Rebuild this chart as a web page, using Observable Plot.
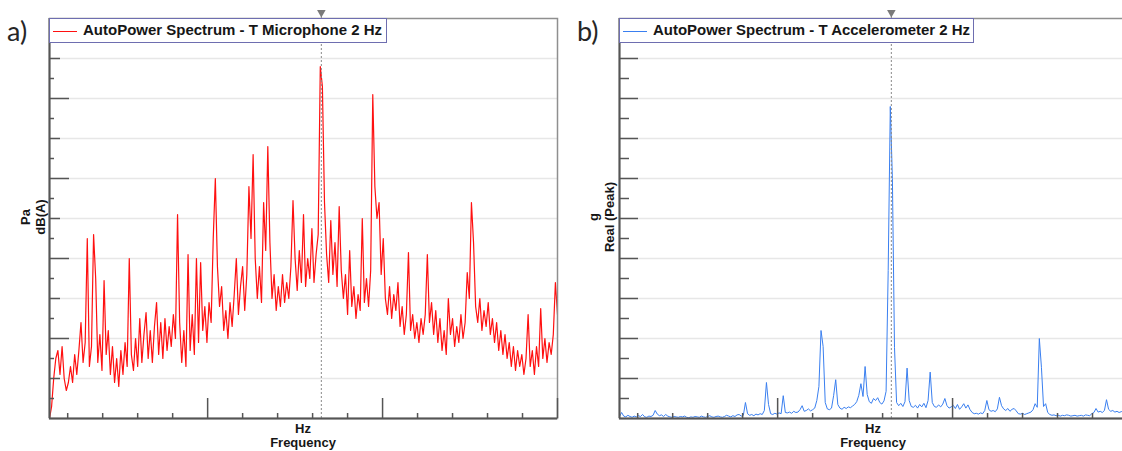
<!DOCTYPE html>
<html>
<head>
<meta charset="utf-8">
<script src="https://cdn.jsdelivr.net/npm/d3@7"></script>
<script src="https://cdn.jsdelivr.net/npm/@observablehq/plot@0.6"></script>
<style>
  html, body { margin: 0; padding: 0; background: #fff; overflow: hidden; width: 1122px; height: 451px; }
  #root { position: relative; width: 1122px; height: 451px; overflow: hidden; font-family: "Liberation Sans", Arial, sans-serif; }
  .panel { position: absolute; top: 0; width: 560px; height: 451px; }
  .panel svg { max-width: none !important; }
  .tag { position: absolute; font-family: Lato, "Open Sans", sans-serif; font-size: 27px; line-height: 27px; color: #262626; }
  .legend { position: absolute; top: 18px; height: 25px; box-sizing: border-box; border: 1px solid #6e6eb0; background: #fff; }
  .legend .sw { position: absolute; left: 3px; top: 11.5px; width: 24px; height: 1.5px; }
  .legend .lt { position: absolute; left: 33px; top: 4px; font-weight: bold; font-size: 14.5px; line-height: 15px; color: #161616; white-space: nowrap; transform-origin: 0 0; }
  .ylab { position: absolute; font-weight: bold; font-size: 13px; line-height: 13px; color: #161616; white-space: nowrap; transform: translate(-50%, -50%) rotate(-90deg); }
  .xlab { position: absolute; font-weight: bold; font-size: 13px; line-height: 13px; color: #161616; white-space: nowrap; transform: translateX(-50%); }
</style>
</head>
<body>
<div id="root"></div>
<script>
// ---- data (levels, one value per 6 Hz bin starting at 48 Hz) ----
const freqStartHz = 48;
const binHz = 6;
const xDomainHz = [48, 1500];
const yDomain = [0, 100];
const cursorHz = 825;

const titleA = "AutoPower Spectrum - T Microphone 2 Hz";
const titleB = "AutoPower Spectrum - T Accelerometer 2 Hz";
const tagA = "a)";
const tagB = "b)";
const yLabelA = ["Pa", "dB(A)"];
const yLabelB = ["g", "Real (Peak)"];
const xLabelLines = ["Hz", "Frequency"];

const gridLevels = [10, 20, 30, 40, 50, 60, 70, 80, 90];
const halfLevels = [5, 15, 25, 35, 45, 55, 65, 75, 85, 95];
const longLevelsA = [20, 40, 60, 80];
const midLevelsA = [10, 30, 50, 70, 90];
const xMinorHz = [100, 200, 300, 400, 600, 700, 800, 900, 1100, 1200, 1300, 1400];
const xMajorHz = [500, 1000, 1500];

const levelA = [
  0, 3, 10, 15, 17, 11, 18, 10, 7, 9,
  13, 9, 16, 11, 17, 24, 14, 19, 45, 13,
  18, 46, 35, 14, 21, 12, 34.5, 16, 22, 11,
  18, 9, 15, 8, 17, 11, 19, 13, 40, 16,
  12, 20, 13, 25, 14, 21, 26.5, 15, 22, 14,
  23, 29, 16, 24, 15, 25, 17, 23, 18, 26,
  20, 51, 24, 14, 22, 13, 41, 17, 26, 16,
  40, 19, 39, 22, 28, 19, 29, 24, 45, 60,
  38, 28, 33, 22, 27, 20, 29, 23, 31, 40,
  26, 33, 38, 27, 36, 58, 45, 66, 40, 30,
  38, 29, 54, 42, 68, 44, 30, 36, 27, 33,
  28, 36, 29, 34, 30, 38, 54.5, 40, 32, 42,
  34, 51, 33, 40, 35, 47.5, 34, 41, 46, 88,
  83, 54, 41, 34, 49.5, 36, 44, 33, 53, 37,
  30, 36, 26, 42, 28, 33, 25, 31, 27, 50,
  29, 35, 28, 37, 81, 58, 50, 54, 36, 45,
  30, 26, 33, 25, 31, 27, 34, 23, 28, 21,
  26, 41.5, 22, 26, 20, 24, 19, 25, 21, 26,
  41, 24, 29, 21, 27, 19, 25, 17, 22, 16,
  30, 21, 25, 18, 23, 19, 26, 20, 24, 36.5,
  30, 54, 44, 28, 24, 30, 22, 27, 23, 29,
  21, 25, 19, 24, 17, 22, 16, 21, 15, 19,
  13, 18, 12, 17, 13, 16, 11, 15, 26, 13,
  17, 11, 18, 13, 27.5, 15, 20, 14, 19, 16,
  21, 34, 26
];

const levelB = [
  0.5, 1.5, 0.6, 0.4, 0.8, 0.5, 0.3, 0.6, 0.4, 0.7,
  0.5, 1.0, 0.4, 0.3, 0.6, 0.5, 0.8, 2.0, 1.1, 0.7,
  0.9, 0.5, 1.0, 0.6, 0.4, 0.3, 0.5, 0.4, 0.3, 0.5,
  0.4, 0.6, 0.3, 0.2, 0.4, 0.3, 0.5, 0.4, 0.3, 0.6,
  0.4, 0.3, 0.5, 0.7, 0.4, 0.3, 0.5, 0.6, 0.4, 0.3,
  0.5, 0.8, 0.6, 0.4, 0.7, 0.5, 0.9, 1.0, 0.6, 0.8,
  4.0, 1.2, 0.8, 1.0, 0.7, 1.1, 0.9, 1.2, 1.0, 2.0,
  9.0, 3.5, 1.2, 1.0, 1.3, 1.1, 1.4, 1.2, 5.7, 1.5,
  1.4, 1.6, 1.3, 1.8, 1.5, 1.6, 2.2, 3.2, 1.8, 2.0,
  2.4, 1.9, 2.2, 2.6, 4.5, 8.0, 22, 18, 4.0, 2.4,
  2.2, 2.6, 5.7, 9.7, 3.5, 2.6, 2.3, 2.8, 2.5, 2.9,
  2.7, 3.1, 3.5, 4.2, 5.8, 8.7, 5.5, 13, 6.0, 4.2,
  3.8, 5.0, 4.5, 5.2, 4.0, 3.6, 4.4, 6.8, 37, 78,
  60, 17.8, 4.0, 3.2, 3.8, 3.0, 4.2, 12.6, 4.5, 3.0,
  2.8, 3.3, 2.6, 3.5, 2.9, 3.8, 2.7, 4.5, 11.6, 4.0,
  3.0, 2.8, 3.4, 2.9, 3.6, 5.0, 3.2, 2.6, 2.9, 3.3,
  2.5, 3.5, 2.3, 2.9, 3.7, 2.6, 3.4, 2.2, 1.5, 1.2,
  1.3, 1.1, 1.4, 1.2, 2.0, 4.5, 2.2, 1.8, 2.0, 1.7,
  2.4, 5.3, 3.2, 2.4, 2.0, 2.5, 1.8, 2.3, 2.5, 1.9,
  1.2, 1.1, 1.3, 1.0, 1.2, 1.4, 1.6, 2.2, 3.7, 2.8,
  20, 12.8, 3.0, 3.7, 1.5, 1.0, 0.8, 0.9, 0.7, 0.8,
  0.6, 0.8, 0.7, 0.9, 0.8, 0.6, 0.7, 0.8, 0.6, 0.7,
  0.8, 0.6, 0.9, 0.8, 0.7, 1.2, 1.5, 2.5, 1.6, 1.8,
  1.5, 2.0, 4.7, 2.3, 1.8, 2.0, 1.6, 1.8, 1.5, 1.7,
  1.9, 1.6, 1.8
];

// ---- drawing ----
const axisColor = "#555";
const yTicks = (vals, len) => Plot.axisY(vals, {anchor: "left", tickSize: len, insetLeft: len, tickFormat: () => "", label: null, stroke: axisColor, strokeWidth: 1.5});
const xTicks = (vals, len) => Plot.axisX(vals, {anchor: "bottom", tickSize: len, insetBottom: len, tickFormat: () => "", label: null, stroke: axisColor, strokeWidth: 1.5});

function panel(levels, color, lineWidth, tickMarks) {
  const rows = levels.map((v, i) => ({hz: freqStartHz + binHz * i, v}));
  return Plot.plot({
    width: 560, height: 451,
    marginLeft: 49, marginRight: 3, marginTop: 18, marginBottom: 33,
    x: {domain: xDomainHz, axis: null},
    y: {domain: yDomain, axis: null},
    style: {background: "transparent", overflow: "visible", maxWidth: "none"},
    marks: [
      Plot.gridY(gridLevels, {stroke: "#e7e7e7", strokeOpacity: 1, strokeWidth: 1.6}),
      Plot.line(rows, {x: "hz", y: "v", stroke: color, strokeWidth: lineWidth, clip: true}),
      Plot.ruleX([cursorHz], {stroke: "#8a8a8a", strokeWidth: 1, strokeDasharray: "2,2", insetTop: -6}),
      Plot.dot([cursorHz], {x: d => d, frameAnchor: "top", dy: -6, symbol: "triangle", rotate: 180, r: 3.2, fill: "#7a7a7a", stroke: null}),
      Plot.frame({stroke: "#8f8f8f", strokeWidth: 1.5}),
      ...tickMarks,
      xTicks(xMinorHz, 5),
      xTicks(xMajorHz, 20),
      Plot.ruleX([xDomainHz[0]], {stroke: axisColor, strokeWidth: 2}),
      Plot.ruleY([yDomain[0]], {stroke: axisColor, strokeWidth: 2})
    ]
  });
}

const root = document.getElementById("root");

function addPanel(left, levels, color, lineWidth, tickMarks, title, titleWidth, boxWidth, tag, tagLeft, yLines, yLabelX) {
  const wrap = document.createElement("div");
  wrap.className = "panel";
  wrap.style.left = left + "px";
  const svg = panel(levels, color, lineWidth, tickMarks);
  svg.style.maxWidth = "none";
  wrap.appendChild(svg);
  root.appendChild(wrap);

  const t = document.createElement("div");
  t.className = "tag";
  t.textContent = tag;
  t.style.left = tagLeft + "px";
  t.style.top = "17px";
  root.appendChild(t);

  const lg = document.createElement("div");
  lg.className = "legend";
  lg.style.left = (left + 49) + "px";
  lg.style.width = boxWidth + "px";
  const sw = document.createElement("div");
  sw.className = "sw";
  sw.style.background = color;
  lg.appendChild(sw);
  const lt = document.createElement("div");
  lt.className = "lt";
  lt.textContent = title;
  lt.dataset.w = titleWidth;
  lg.appendChild(lt);
  root.appendChild(lg);

  yLines.forEach((s, k) => {
    const d = document.createElement("div");
    d.className = "ylab";
    d.textContent = s;
    d.style.left = (left + yLabelX[k]) + "px";
    d.style.top = "217px";
    root.appendChild(d);
  });

  xLabelLines.forEach((s, k) => {
    const d = document.createElement("div");
    d.className = "xlab";
    d.textContent = s;
    d.style.left = (left + 303) + "px";
    d.style.top = (k === 0 ? 422 : 436) + "px";
    root.appendChild(d);
  });
}

addPanel(0, levelA, "#ff1010", 1.2,
  [yTicks(halfLevels, 5), yTicks(midLevelsA, 11), yTicks(longLevelsA, 20)],
  titleA, 299, 338, tagA, 7, yLabelA, [25, 40]);
addPanel(570, levelB, "#3a7ff0", 1,
  [yTicks(halfLevels, 10), yTicks(gridLevels, 19)],
  titleB, 317, 355, tagB, 577, yLabelB, [23, 39]);

// fit legend texts to their measured widths
for (const el of document.querySelectorAll(".lt")) {
  const w = el.getBoundingClientRect().width;
  el.style.transform = `scaleX(${(+el.dataset.w) / w})`;
}
</script>
</body>
</html>
